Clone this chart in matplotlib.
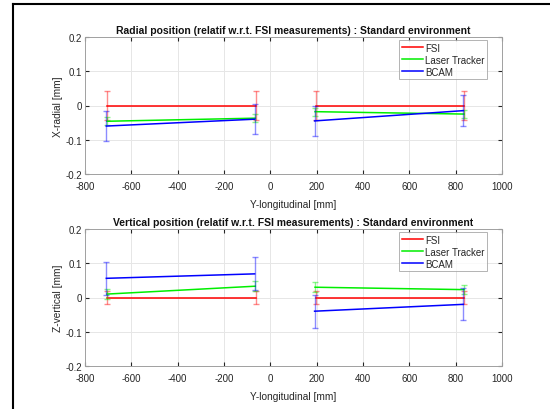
import numpy as np
import matplotlib
matplotlib.use('Agg')
import matplotlib.pyplot as plt
from matplotlib.lines import Line2D

plt.rcParams['font.family'] = ['Liberation Sans', 'DejaVu Sans']
plt.rcParams['axes.unicode_minus'] = False

# y-longitudinal positions [mm] (nan splits the two segments)
y_fsi = [-705, -62, np.nan, 195, 838]
y_lt = [-705, -65, np.nan, 193, 836]
y_bcam = [-708, -68, np.nan, 191, 833]

series = ['FSI', 'Laser Tracker', 'BCAM']
colors = ['#ff0000', '#00ee00', '#0000ff']

# radial
x_fsi = [0, 0, np.nan, 0, 0]
x_fsi_err = [0.043, 0.043, np.nan, 0.043, 0.043]
x_lt = [-0.046, -0.037, np.nan, -0.018, -0.025]
x_lt_err = [0.012, 0.012, np.nan, 0.012, 0.012]
x_bcam = [-0.060, -0.040, np.nan, -0.045, -0.015]
x_bcam_err = [0.045, 0.044, np.nan, 0.044, 0.045]

# vertical
z_fsi = [0, 0, np.nan, 0, 0]
z_fsi_err = [0.018, 0.018, np.nan, 0.018, 0.018]
z_lt = [0.010, 0.033, np.nan, 0.030, 0.023]
z_lt_err = [0.014, 0.014, np.nan, 0.014, 0.013]
z_bcam = [0.056, 0.069, np.nan, -0.040, -0.020]
z_bcam_err = [0.048, 0.048, np.nan, 0.048, 0.047]

titles = ['Radial position (relatif w.r.t. FSI measurements) : Standard environment',
          'Vertical position (relatif w.r.t. FSI measurements) : Standard environment']
ylabels = ['X-radial [mm]', 'Z-vertical [mm]']
data = [[(x_fsi, x_fsi_err), (x_lt, x_lt_err), (x_bcam, x_bcam_err)],
        [(z_fsi, z_fsi_err), (z_lt, z_lt_err), (z_bcam, z_bcam_err)]]
ypos = [y_fsi, y_lt, y_bcam]

fig = plt.figure(figsize=(5.5, 4.1), dpi=100)
# axes rectangles in figure fraction (left, bottom, width, height)
rects = [[85/550, 1-175/410, 417/550, 137/410],
         [85/550, 1-367/410, 417/550, 137/410]]

txt = '#262626'
for k in range(2):
    ax = fig.add_axes(rects[k])
    handles = []
    for i in range(3):
        vals, errs = data[k][i]
        ax.errorbar(ypos[i], vals, yerr=errs, fmt='none', ecolor=colors[i],
                    alpha=0.45, elinewidth=1, capsize=2, capthick=1)
        h, = ax.plot(ypos[i], vals, color=colors[i], lw=1.1, label=series[i])
        handles.append(h)
    ax.set_xlim(-800, 1000)
    ax.set_ylim(-0.2, 0.2)
    ax.set_xticks(np.arange(-800, 1001, 200))
    ax.set_yticks([-0.2, -0.1, 0, 0.1, 0.2])
    ax.set_yticklabels(['-0.2', '-0.1', '0', '0.1', '0.2'])
    ax.grid(True, color='#e6e6e6', lw=0.7)
    ax.set_axisbelow(True)
    ax.tick_params(direction='in', length=3, labelsize=7, colors=txt,
                   top=True, right=True, pad=2)
    ax.tick_params(axis='x', pad=5)
    for s in ax.spines.values():
        s.set_color('#a0a0a0')
        s.set_linewidth(0.7)
    ax.set_title(titles[k], fontsize=7.5, fontweight='bold', pad=3, color='#111111')
    ax.set_xlabel('Y-longitudinal [mm]', fontsize=7.3, color=txt, labelpad=6)
    ax.set_ylabel(ylabels[k], fontsize=7.3, color=txt, labelpad=2)
    leg = ax.legend(handles=handles, loc='upper right', fontsize=7,
                    bbox_to_anchor=(0.965, 0.98), frameon=True, fancybox=False,
                    borderpad=0.3, labelspacing=0.2, handlelength=2.2,
                    handletextpad=0.2, borderaxespad=0)
    leg.get_frame().set_edgecolor('#a0a0a0')
    leg.get_frame().set_linewidth(0.7)
    for t in leg.get_texts():
        t.set_color(txt)

# outer black frame (left and top edges)
fig.add_artist(Line2D([13/550, 13/550], [0, 1-5/410], color='black', lw=1.5))
fig.add_artist(Line2D([13/550, 1], [1-5/410, 1-5/410], color='black', lw=1.5))

fig.savefig('out.png', dpi=100)
